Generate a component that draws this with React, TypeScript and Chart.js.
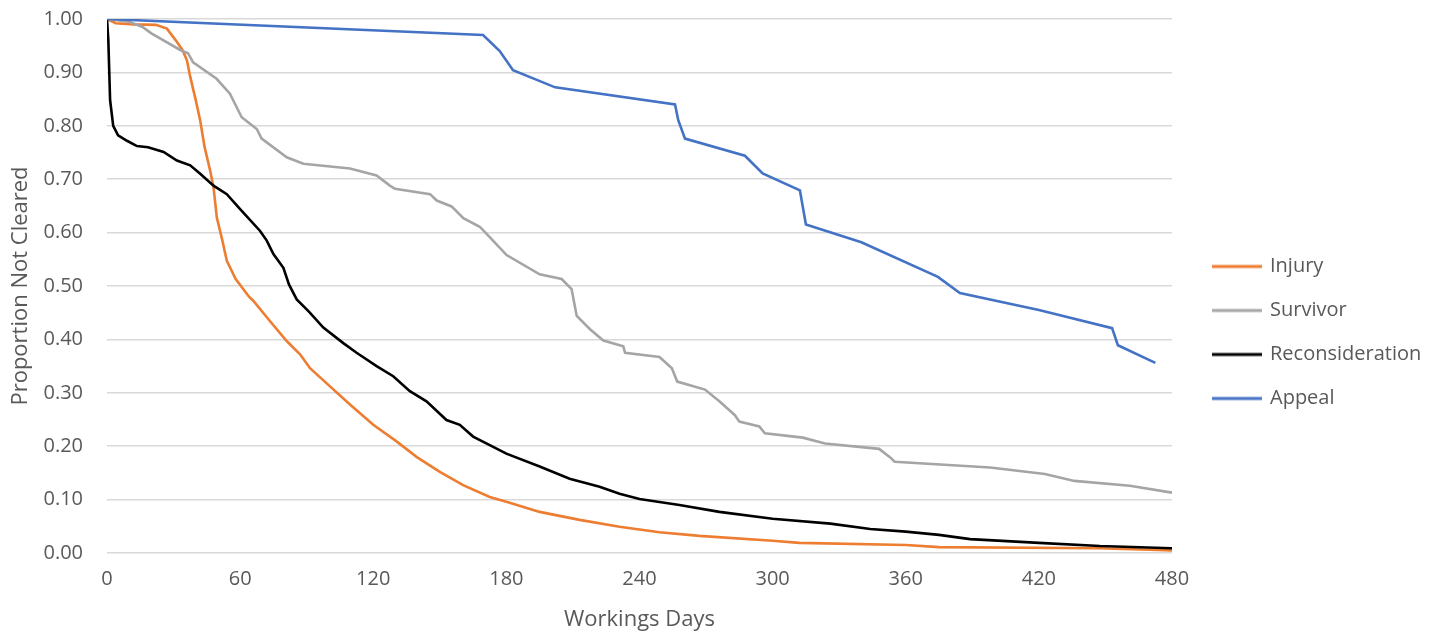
import React, { useEffect, useRef } from "react";
import { Chart, registerables } from "chart.js";

Chart.register(...registerables);

const xTicks = [0, 60, 120, 180, 240, 300, 360, 420, 480];
const seriesNames = ["Injury", "Survivor", "Reconsideration", "Appeal"];
const seriesColors = ["#ED7D31", "#A5A5A5", "#000000", "#4472C4"];

const injuryDays = [0, 4, 12, 22, 27, 31, 34, 36, 37.5, 40, 42, 44, 46.5, 48, 49.5, 52, 54, 58, 64, 66, 73.5, 81, 87, 91.5, 100.5, 109.5, 120, 130.5, 139.5, 150, 160.5, 172.5, 180, 195, 213, 231, 249, 267, 300, 312, 360, 375, 447, 470, 480];
const injuryValues = [1.0, 0.992, 0.99, 0.989, 0.982, 0.96, 0.942, 0.923, 0.892, 0.848, 0.81, 0.76, 0.716, 0.685, 0.628, 0.585, 0.547, 0.513, 0.48, 0.472, 0.434, 0.397, 0.372, 0.346, 0.312, 0.278, 0.24, 0.209, 0.18, 0.152, 0.127, 0.105, 0.096, 0.077, 0.062, 0.049, 0.039, 0.032, 0.023, 0.019, 0.015, 0.011, 0.009, 0.006, 0.005];

const survivorDays = [0, 10, 16, 20, 33, 36.5, 38.8, 49.4, 55.4, 60.7, 67.5, 69.7, 81, 88.5, 109.5, 121.5, 127.5, 129.8, 145.6, 148.6, 155.3, 160.6, 168, 172.6, 180.1, 195, 204.9, 209.4, 211.7, 217.7, 223.7, 232.7, 233.5, 249, 254.6, 257, 269.5, 276, 283, 285, 294, 296.5, 313.6, 323.6, 348, 353, 355, 398, 422.7, 436, 461, 480];
const survivorValues = [1.0, 0.995, 0.985, 0.973, 0.942, 0.936, 0.919, 0.888, 0.86, 0.816, 0.794, 0.776, 0.741, 0.729, 0.72, 0.707, 0.688, 0.682, 0.672, 0.66, 0.649, 0.627, 0.611, 0.591, 0.558, 0.522, 0.513, 0.494, 0.444, 0.419, 0.398, 0.387, 0.375, 0.367, 0.346, 0.321, 0.306, 0.284, 0.258, 0.246, 0.237, 0.224, 0.216, 0.205, 0.195, 0.179, 0.171, 0.16, 0.148, 0.135, 0.126, 0.113];

const reconDays = [0, 0.6, 1.4, 2.8, 5, 9, 13.5, 18.5, 25.5, 31.5, 37.5, 42, 48, 54, 60, 69, 72, 75, 79.5, 82, 85.5, 91, 97.5, 106.5, 112.5, 121.5, 129, 136.5, 144, 153, 159, 165, 172.5, 180, 195, 208.5, 222, 231, 240, 258, 276, 300, 326, 344, 360, 375, 389, 420, 447.5, 480];
const reconValues = [1.0, 0.96, 0.848, 0.8, 0.782, 0.772, 0.762, 0.76, 0.751, 0.735, 0.726, 0.71, 0.688, 0.672, 0.644, 0.603, 0.585, 0.56, 0.534, 0.503, 0.475, 0.452, 0.422, 0.393, 0.375, 0.35, 0.331, 0.303, 0.284, 0.249, 0.24, 0.218, 0.202, 0.186, 0.162, 0.139, 0.124, 0.111, 0.101, 0.09, 0.077, 0.064, 0.055, 0.045, 0.04, 0.034, 0.026, 0.019, 0.013, 0.009];

const appealDays = [0, 169.5, 177, 183, 202, 256, 257.5, 260.5, 287.5, 295.5, 312.3, 315, 340, 374.5, 384.4, 420, 453, 455.6, 472.5];
const appealValues = [1.0, 0.97, 0.94, 0.904, 0.872, 0.84, 0.81, 0.776, 0.744, 0.711, 0.679, 0.615, 0.582, 0.517, 0.487, 0.455, 0.421, 0.389, 0.356];

const allDays = [injuryDays, survivorDays, reconDays, appealDays];
const allValues = [injuryValues, survivorValues, reconValues, appealValues];

const FONT = "'Open Sans', sans-serif";
const TEXT = "#595959";
const LEGEND_WIDTH = 270;

function lineSwatch(color: string): HTMLCanvasElement {
  const c = document.createElement("canvas");
  c.width = 68;
  c.height = 6;
  const ctx = c.getContext("2d")!;
  ctx.strokeStyle = color;
  ctx.lineWidth = 3;
  ctx.beginPath();
  ctx.moveTo(18, 3);
  ctx.lineTo(68, 3);
  ctx.stroke();
  return c;
}

const legendWidthPlugin = {
  id: "legendWidth",
  beforeLayout(chart: any) {
    const lg = chart.legend;
    if (lg && !lg.__patched) {
      const orig = lg.fit;
      lg.fit = function () {
        orig.call(this);
        this.width = LEGEND_WIDTH;
      };
      lg.__patched = true;
    }
  },
};

export default function App() {
  const ref = useRef<HTMLCanvasElement | null>(null);

  useEffect(() => {
    if (!ref.current) return;
    const datasets = seriesNames.map((name, i) => ({
      label: name,
      data: allDays[i].map((d, j) => ({ x: d, y: allValues[i][j] })),
      borderColor: seriesColors[i],
      backgroundColor: seriesColors[i],
      borderWidth: 2.6,
      pointRadius: 0,
      tension: 0,
      fill: false,
      order: 3 - i,
    }));
    const chart = new Chart(ref.current, {
      type: "line",
      data: { datasets },
      plugins: [legendWidthPlugin],
      options: {
        animation: false,
        responsive: false,
        maintainAspectRatio: false,
        layout: { padding: { top: 0, right: 0, bottom: 0, left: 0 } },
        plugins: {
          tooltip: { enabled: false },
          legend: {
            position: "right",
            align: "center",
            title: {
              display: true,
              text: "",
              font: { family: FONT, size: 10 },
              padding: { top: 18, bottom: 0 },
            },
            labels: {
              usePointStyle: true,
              pointStyleWidth: 64,
              padding: 24,
              color: TEXT,
              font: { family: FONT, size: 20 },
              generateLabels: (c: any) =>
                c.data.datasets.map((ds: any, i: number) => ({
                  text: ds.label,
                  pointStyle: lineSwatch(ds.borderColor),
                  fillStyle: ds.borderColor,
                  strokeStyle: ds.borderColor,
                  lineWidth: 0,
                  hidden: false,
                  datasetIndex: i,
                  fontColor: TEXT,
                })),
            },
          },
        },
        scales: {
          x: {
            type: "linear",
            min: 0,
            max: 480,
            afterBuildTicks: (s: any) => {
              s.ticks = xTicks.map((v) => ({ value: v }));
            },
            afterFit: (s: any) => {
              s.height = 82;
            },
            grid: { display: false, drawTicks: false },
            border: { display: false },
            ticks: {
              color: TEXT,
              font: { family: FONT, size: 20 },
              padding: 14,
              maxRotation: 0,
              callback: (v: any) => String(v),
            },
            title: {
              display: true,
              text: "Workings Days",
              color: TEXT,
              font: { family: FONT, size: 22 },
              padding: { top: 0, bottom: 2 },
            },
          },
          y: {
            type: "linear",
            min: 0,
            max: 1,
            afterFit: (s: any) => {
              s.width = 107;
              s.paddingTop = 19;
              s.paddingBottom = 12;
            },
            grid: { color: "#D9D9D9", lineWidth: 1.5, drawTicks: false },
            border: { display: false },
            ticks: {
              stepSize: 0.1,
              color: TEXT,
              font: { family: FONT, size: 20 },
              padding: 24,
              callback: (v: any) => Number(v).toFixed(2),
            },
            title: {
              display: true,
              text: "Proportion Not Cleared",
              color: TEXT,
              font: { family: FONT, size: 22 },
              padding: { top: 8, bottom: 0 },
            },
          },
        },
      },
    });
    return () => chart.destroy();
  }, []);

  return (
    <div style={{ position: "fixed", left: 0, top: 0, width: 1442, height: 635, background: "#fff" }}>
      <canvas ref={ref} width={1442} height={635} style={{ width: 1442, height: 635, display: "block" }} />
    </div>
  );
}
